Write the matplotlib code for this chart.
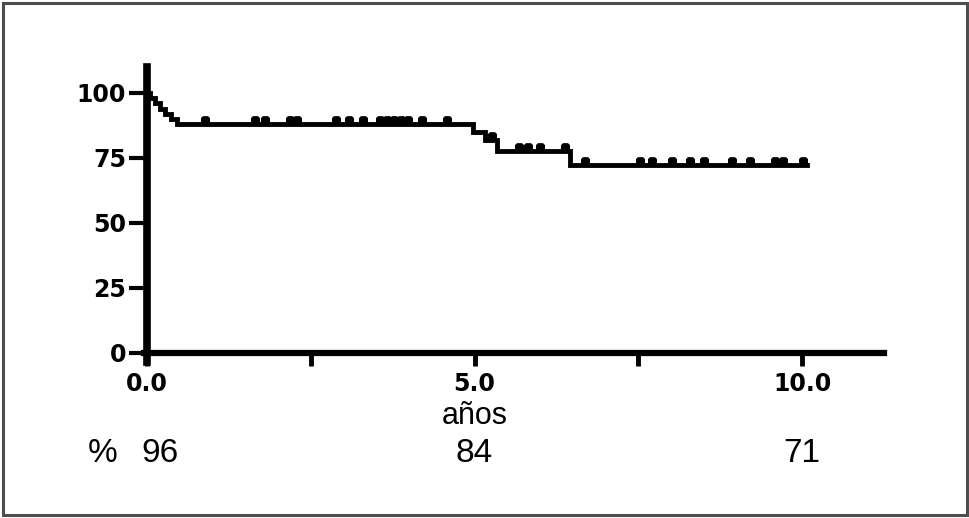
import numpy as np
import matplotlib
matplotlib.use("Agg")
import matplotlib.pyplot as plt
from matplotlib.path import Path
from matplotlib.patches import Rectangle
import matplotlib.transforms as mtransforms

# Kaplan-Meier steps (years, % survival after the step)
step_years = [0.0, 0.05, 0.12, 0.20, 0.28, 0.36, 0.46, 4.98, 5.16, 5.35, 6.45, 10.07]
step_surv = [100, 98, 96, 94, 92, 90, 88.2, 85.0, 82.0, 77.8, 72.3, 72.3]

# censored patients (years)
censor_years = [0.89, 1.65, 1.80, 2.18, 2.29, 2.89, 3.08, 3.30, 3.56, 3.66, 3.77,
                3.88, 3.98, 4.20, 4.58, 5.26, 5.68, 5.82, 6.00, 6.38, 6.69, 7.53,
                7.71, 8.02, 8.29, 8.50, 8.93, 9.20, 9.59, 9.71, 10.02]

x_ticks = [0, 5, 10]
x_tick_labels = ["0.0", "5.0", "10.0"]
x_minor = [2.5, 7.5]
y_ticks = [0, 25, 50, 75, 100]

pct_years = [0.2, 5.0, 10.0]
pct_labels = ["96", "84", "71"]

# survival at each censor time
idx = np.searchsorted(step_years, censor_years, side="right") - 1
censor_surv = np.array(step_surv)[idx]

# marker: small bump sitting on top of the line
bump = Path([(-0.5, 0), (-0.5, 0.8), (-0.3, 1), (0.3, 1), (0.5, 0.8), (0.5, 0), (-0.5, 0)],
            closed=True)

fig = plt.figure(figsize=(9.69, 5.18), dpi=100)
ax = fig.add_axes([0.1483, 0.3012, 0.9123 - 0.1483, 0.8707 - 0.3012])

ax.step(step_years, step_surv, where="post", color="black", lw=3.5, solid_joinstyle="miter")
ax.plot(censor_years, censor_surv, ls="none", marker=bump, ms=11, color="black")

ax.set_xlim(-0.05, 11.25)
ax.set_ylim(-3.5, 110)

for s in ["top", "right"]:
    ax.spines[s].set_visible(False)
ax.spines["left"].set_position(("data", 0))
ax.spines["bottom"].set_position(("data", 0))
ax.spines["left"].set_linewidth(5.5)
ax.spines["bottom"].set_linewidth(4.5)

ax.set_xticks(x_ticks)
ax.set_xticklabels(x_tick_labels)
ax.set_xticks(x_minor, minor=True)
ax.set_yticks(y_ticks)

ax.tick_params(axis="x", which="both", direction="out", length=9, width=3.5, pad=5)
ax.tick_params(axis="y", direction="out", length=13, width=3, pad=2)
for lab in ax.get_xticklabels() + ax.get_yticklabels():
    lab.set_fontfamily("DejaVu Sans")
    lab.set_fontweight("heavy")
    lab.set_fontsize(17)

trans = mtransforms.blended_transform_factory(ax.transData, fig.transFigure)
narrow = ["Liberation Sans Narrow", "Liberation Sans", "DejaVu Sans"]

ax.text(5.0, 0.1815, "años", transform=trans, ha="center", va="baseline",
        fontsize=22, family=narrow)
ax.text(-0.67, 0.1081, "%", transform=trans, ha="center", va="baseline",
        fontsize=24, family=narrow)
for xp, lab in zip(pct_years, pct_labels):
    ax.text(xp, 0.1081, lab, transform=trans, ha="center", va="baseline",
            fontsize=24, family=narrow)

# outer frame
fig.patches.append(Rectangle((2.5 / 969, 3 / 518), 964 / 969, 512.5 / 518,
                             transform=fig.transFigure, fill=False,
                             edgecolor="#4d4d4d", lw=2.2))

fig.savefig("out.png", dpi=100)
